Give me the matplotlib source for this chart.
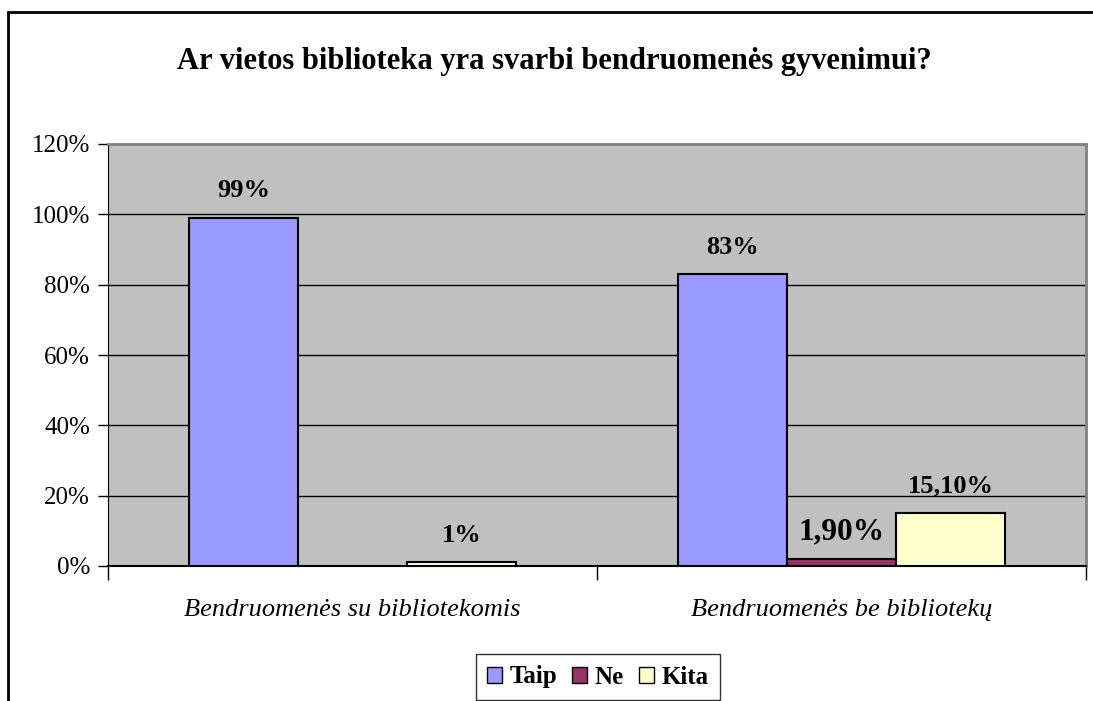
import matplotlib.pyplot as plt
import matplotlib.patches as mpatches
from matplotlib.ticker import FuncFormatter
import numpy as np

categories = ["Bendruomenės su bibliotekomis", "Bendruomenės be bibliotekų"]
series = ["Taip", "Ne", "Kita"]
taip = [99, 83]
ne = [0, 1.9]
kita = [1, 15.1]
labels_taip = ["99%", "83%"]
labels_ne = ["", "1,90%"]
labels_kita = ["1%", "15,10%"]
colors = ["#9999FF", "#993366", "#FFFFCC"]

plt.rcParams['font.family'] = ['Liberation Serif', 'DejaVu Serif']

W, H = 1093, 701
fig = plt.figure(figsize=(W / 100, H / 100), dpi=100)
# plot area in pixels: left 108, right 1086, top 144, bottom 566
ax = fig.add_axes([108 / W, 1 - 566 / H, (1086 - 108) / W, (566 - 144) / H])
ax.set_facecolor("#C0C0C0")

x = np.arange(len(categories))
bw = 0.223
data = [taip, ne, kita]
labs = [labels_taip, labels_ne, labels_kita]
sizes = [19, 22.5, 19]
for i in range(3):
    pos = x + (i - 1) * bw
    vals = data[i]
    for j in range(len(x)):
        if vals[j] > 0:
            ax.bar(pos[j], vals[j], width=bw, color=colors[i], edgecolor="black",
                   linewidth=1.5, zorder=3)
        if labs[i][j]:
            ax.annotate(labs[i][j], (pos[j], vals[j]), xytext=(0, 19.5), textcoords="offset points",
                        ha="center", va="center", fontsize=sizes[i], fontweight="bold", zorder=4)

ax.set_xlim(-0.5, 1.5)
ax.set_ylim(0, 120)
ax.set_yticks(np.arange(0, 121, 20))
ax.yaxis.set_major_formatter(FuncFormatter(lambda v, p: "%d%%" % v))
ax.yaxis.grid(True, color="black", linewidth=1, zorder=1)
ax.set_axisbelow(True)
ax.set_xticks([-0.5, 0.5, 1.5])
ax.set_xticklabels([])
ax.set_xticks(x, minor=True)
ax.set_xticklabels(categories, minor=True, fontsize=19, fontstyle="italic")
ax.tick_params(axis="x", which="minor", length=0, pad=24)
ax.tick_params(axis="x", which="major", length=10, width=1, direction="out")
ax.tick_params(axis="y", length=7, width=1, labelsize=18, pad=6)

for s in ["top", "right"]:
    ax.spines[s].set_color("#808080")
    ax.spines[s].set_linewidth(2)
ax.spines["left"].set_color("black")
ax.spines["bottom"].set_color("black")
ax.spines["bottom"].set_linewidth(1.5)

fig.text(554 / W, 1 - 62 / H, "Ar vietos biblioteka yra svarbi bendruomenės gyvenimui?",
         ha="center", va="center", fontsize=22, fontweight="bold")

# outer chart frame
fig.add_artist(mpatches.Rectangle((8 / W, -0.05), 1.2, 1 - 12 / H + 0.05, transform=fig.transFigure,
                                  fill=False, edgecolor="black", linewidth=2))

handles = [mpatches.Patch(facecolor=c, edgecolor="black", linewidth=1) for c in colors]
leg = fig.legend(handles, series, loc="center", bbox_to_anchor=(598 / W, 1 - 677 / H), ncol=3,
                 frameon=True, fancybox=False, edgecolor="black",
                 prop={"weight": "bold", "size": 18}, handlelength=0.6, handleheight=0.6,
                 handletextpad=0.3, columnspacing=0.6, borderpad=0.45)
leg.get_frame().set_linewidth(1)

fig.savefig("out.png", dpi=100)
